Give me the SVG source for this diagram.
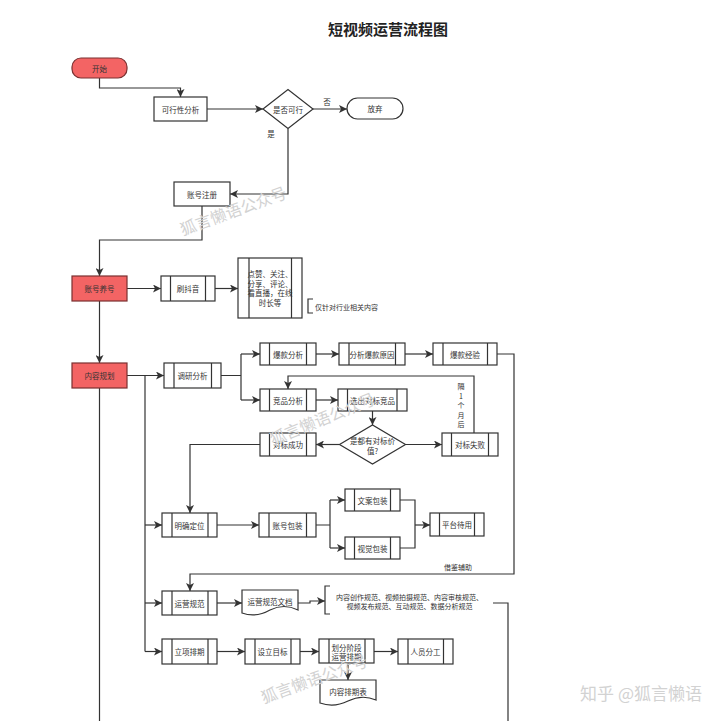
<svg xmlns="http://www.w3.org/2000/svg" width="720" height="721" viewBox="0 0 720 721">
<style>
.n{fill:#fff;stroke:#333;stroke-width:1.2}
.r{fill:#f36464;stroke:#7a3030;stroke-width:1.2}
.l{stroke:#333;stroke-width:1.2}
.t{font-family:"Noto Sans CJK SC","Noto Sans",sans-serif;font-size:7.5px;fill:#333;text-anchor:middle;dominant-baseline:central}
.s{font-size:7px}
.c{fill:none;stroke:#333;stroke-width:1.2;marker-end:url(#a)}
.p{fill:none;stroke:#333;stroke-width:1.2}
.w{font-family:"Noto Sans CJK SC",sans-serif;font-size:16px;fill:#d2d2d2;text-anchor:middle;dominant-baseline:central}
</style>
<defs>
<marker id="a" markerUnits="userSpaceOnUse" markerWidth="9" markerHeight="8" refX="8" refY="4" orient="auto">
<path d="M0,0 L8,4 L0,8 L2,4 z" fill="#333"/>
</marker>
</defs>
<rect width="720" height="721" fill="#fff"/>
<text x="388" y="28" class="t" style="font-size:15px;font-weight:bold;fill:#222">短视频运营流程图</text>

<g id="connectors">
<path class="c" d="M99.5,78 V88 H180.5 V97"/>
<path class="c" d="M207,109 H263"/>
<path class="c" d="M313,109 H347"/>
<path class="c" d="M288,128.5 V194 H230"/>
<path class="c" d="M202,206 V240 H99.5 V276"/>
<path class="c" d="M127,288.5 H161"/>
<path class="c" d="M215,288.5 H238"/>
<path class="c" d="M99.5,301 V363"/>
<path class="c" d="M127,375.5 H164"/>
<path class="p" d="M99.5,388 V721"/>
<path class="p" d="M145,375.5 V651.5"/>
<path class="c" d="M145,525 H162"/>
<path class="c" d="M145,603 H162"/>
<path class="c" d="M145,651.5 H162"/>
<path class="p" d="M221,375.5 H241 M241,354 V400"/>
<path class="c" d="M241,354 H260"/>
<path class="c" d="M241,400 H260"/>
<path class="c" d="M316,354 H339"/>
<path class="c" d="M405,354 H433"/>
<path class="c" d="M497,354 H514 V574 H190 V591"/>
<path class="c" d="M316,400 H338"/>
<path class="c" d="M372.5,411 V425"/>
<path class="c" d="M339.5,444.5 H316"/>
<path class="c" d="M405.5,444.5 H442"/>
<path class="c" d="M474,433 V376 H288 V389"/>
<path class="c" d="M260,444.5 H190 V513"/>
<path class="c" d="M217,525 H259"/>
<path class="p" d="M316,525 H330 M330,500 V548"/>
<path class="c" d="M330,500 H345"/>
<path class="c" d="M330,548 H345"/>
<path class="p" d="M400,500 H415 V548 H400"/>
<path class="c" d="M415,525 H430"/>
<path class="c" d="M217,603 H242"/>
<path class="c" d="M298,603 H310 V601 H325"/>
<path class="p" d="M493,603 H508 V721"/>
<path class="c" d="M217,651.5 H245"/>
<path class="c" d="M300,651.5 H319"/>
<path class="c" d="M374,651.5 H398"/>
<path class="c" d="M348,663 V680"/>
<text x="327" y="101" class="t">否</text>
<text x="271" y="133" class="t">是</text>
<text x="458" y="567" class="t s">借鉴辅助</text>
<text class="t" x="461" style="font-size:7px"><tspan x="461" y="386">隔</tspan><tspan x="461" y="395.5">1</tspan><tspan x="461" y="405">个</tspan><tspan x="461" y="414.5">月</tspan><tspan x="461" y="424">后</tspan></text>
</g>

<g id="start"><rect class="r" x="72" y="58" width="55" height="20" rx="9"/><text class="t" x="99.5" y="68">开始</text></g>
<g id="feasibility"><rect class="n" x="154" y="97" width="53" height="24"/><text class="t" x="180.5" y="109">可行性分析</text></g>
<g id="decision1"><polygon class="n" points="263,109 288,89.5 313,109 288,128.5"/><text class="t" x="288" y="109">是否可行</text></g>
<g id="giveup"><rect class="n" x="347" y="98" width="56" height="21" rx="10.5"/><text class="t" x="375" y="108.5">放弃</text></g>
<g id="register"><rect class="n" x="174" y="182" width="56" height="24"/><text class="t" x="202" y="194">账号注册</text></g>
<g id="nurture"><rect class="r" x="72" y="276" width="55" height="25"/><text class="t" x="99.5" y="288.5">账号养号</text></g>
<g id="douyin"><rect class="n" x="161" y="276" width="54" height="25"/><path class="l" d="M170.5,276 V301 M205.5,276 V301"/><text class="t" x="188" y="288.5">刷抖音</text></g>
<g id="actions"><rect class="n" x="238" y="258" width="64" height="60"/><path class="l" d="M249,258 V318 M291.5,258 V318"/><text class="t" x="270" y="273.5">点赞、关注、</text><text class="t" x="270" y="283">分享、评论、</text><text class="t" x="270" y="292.5">看直播，在线</text><text class="t" x="270" y="302">时长等</text></g>
<g id="note1"><path class="p" d="M313,299 H308 V313 H313"/><text class="t s" x="315" y="306.5" style="text-anchor:start">仅针对行业相关内容</text></g>
<g id="planning"><rect class="r" x="72" y="363" width="55" height="25"/><text class="t" x="99.5" y="375.5">内容规划</text></g>
<g id="research"><rect class="n" x="164" y="363" width="57" height="25"/><path class="l" d="M174,363 V388 M211.5,363 V388"/><text class="t" x="192.5" y="375.5">调研分析</text></g>
<g id="hit"><rect class="n" x="260" y="343" width="56" height="22"/><path class="l" d="M269.5,343 V365 M306.5,343 V365"/><text class="t" x="288" y="354">爆款分析</text></g>
<g id="hitreason"><rect class="n" x="339" y="343" width="66" height="22"/><path class="l" d="M349,343 V365 M395.5,343 V365"/><text class="t" x="372" y="354">分析爆款原因</text></g>
<g id="hitexp"><rect class="n" x="433" y="343" width="64" height="22"/><path class="l" d="M443,343 V365 M487.5,343 V365"/><text class="t" x="465" y="354">爆款经验</text></g>
<g id="competitor"><rect class="n" x="260" y="389" width="56" height="22"/><path class="l" d="M269.5,389 V411 M306.5,389 V411"/><text class="t" x="288" y="400">竞品分析</text></g>
<g id="benchmark"><rect class="n" x="338" y="389" width="69" height="22"/><path class="l" d="M347.5,389 V411 M397,389 V411"/><text class="t" x="372.5" y="400">选出对标竞品</text></g>
<g id="decision2"><polygon class="n" points="339.5,444.5 372.5,425 405.5,444.5 372.5,464"/><text class="t" x="372.5" y="440">是都有对标价</text><text class="t" x="372.5" y="450">值?</text></g>
<g id="success"><rect class="n" x="260" y="433" width="56" height="23"/><path class="l" d="M269.5,433 V456 M306.5,433 V456"/><text class="t" x="288" y="444.5">对标成功</text></g>
<g id="fail"><rect class="n" x="442" y="433" width="56" height="23"/><path class="l" d="M451.5,433 V456 M488.5,433 V456"/><text class="t" x="470" y="444.5">对标失败</text></g>
<g id="position"><rect class="n" x="162" y="513" width="55" height="24"/><path class="l" d="M172,513 V537 M208,513 V537"/><text class="t" x="189.5" y="525">明确定位</text></g>
<g id="accpack"><rect class="n" x="259" y="513" width="57" height="24"/><path class="l" d="M269,513 V537 M306.5,513 V537"/><text class="t" x="287.5" y="525">账号包装</text></g>
<g id="copypack"><rect class="n" x="345" y="489" width="55" height="22"/><path class="l" d="M354.5,489 V511 M390.5,489 V511"/><text class="t" x="372.5" y="500">文案包装</text></g>
<g id="visualpack"><rect class="n" x="345" y="537" width="55" height="22"/><path class="l" d="M354.5,537 V559 M390.5,537 V559"/><text class="t" x="372.5" y="548">视觉包装</text></g>
<g id="platform"><rect class="n" x="430" y="513" width="54" height="23"/><path class="l" d="M439.5,513 V536 M474.5,513 V536"/><text class="t" x="457" y="524.5">平台待用</text></g>
<g id="opsrule"><rect class="n" x="162" y="591" width="55" height="24"/><path class="l" d="M172,591 V615 M208,591 V615"/><text class="t" x="189.5" y="603">运营规范</text></g>
<g id="opsdoc"><path class="n" d="M242,590 H298 V610 Q284,603 270,610 Q256,618 242,613 Z"/><text class="t" x="270" y="601">运营规范文档</text></g>
<g id="note2"><path class="p" d="M330,586 H325 V614 H330"/><text class="t s" x="409.5" y="596.5">内容创作规范、视频拍摄规范、内容审核规范、</text><text class="t s" x="409.5" y="606">视频发布规范、互动规范、数据分析规范</text></g>
<g id="schedule"><rect class="n" x="162" y="639" width="55" height="25"/><path class="l" d="M172,639 V664 M208,639 V664"/><text class="t" x="189.5" y="651.5">立项排期</text></g>
<g id="goal"><rect class="n" x="245" y="639" width="55" height="25"/><path class="l" d="M255,639 V664 M291,639 V664"/><text class="t" x="272.5" y="651.5">设立目标</text></g>
<g id="phase"><rect class="n" x="319" y="639" width="55" height="24"/><path class="l" d="M329,639 V663 M365,639 V663"/><text class="t" x="346.5" y="647">划分阶段</text><text class="t" x="346.5" y="656.5">运营排期</text></g>
<g id="staff"><rect class="n" x="398" y="639" width="55" height="25"/><path class="l" d="M408,639 V664 M443.5,639 V664"/><text class="t" x="425.5" y="651.5">人员分工</text></g>
<g id="plansheet"><path class="n" d="M320,680 H376 V700 Q362,694 348,701 Q334,708 320,703 Z"/><text class="t" x="348" y="691">内容排期表</text></g>

<g id="watermarks">
<text class="w" transform="translate(233,210) rotate(-20)">狐言懒语公众号</text>
<text class="w" transform="translate(322,418) rotate(-22)">狐言懒语公众号</text>
<text class="w" transform="translate(314,678) rotate(-20)">狐言懒语公众号</text>
<text class="w" x="702" y="692" style="font-size:17px;text-anchor:end">知乎 @狐言懒语</text>
</g>
</svg>
